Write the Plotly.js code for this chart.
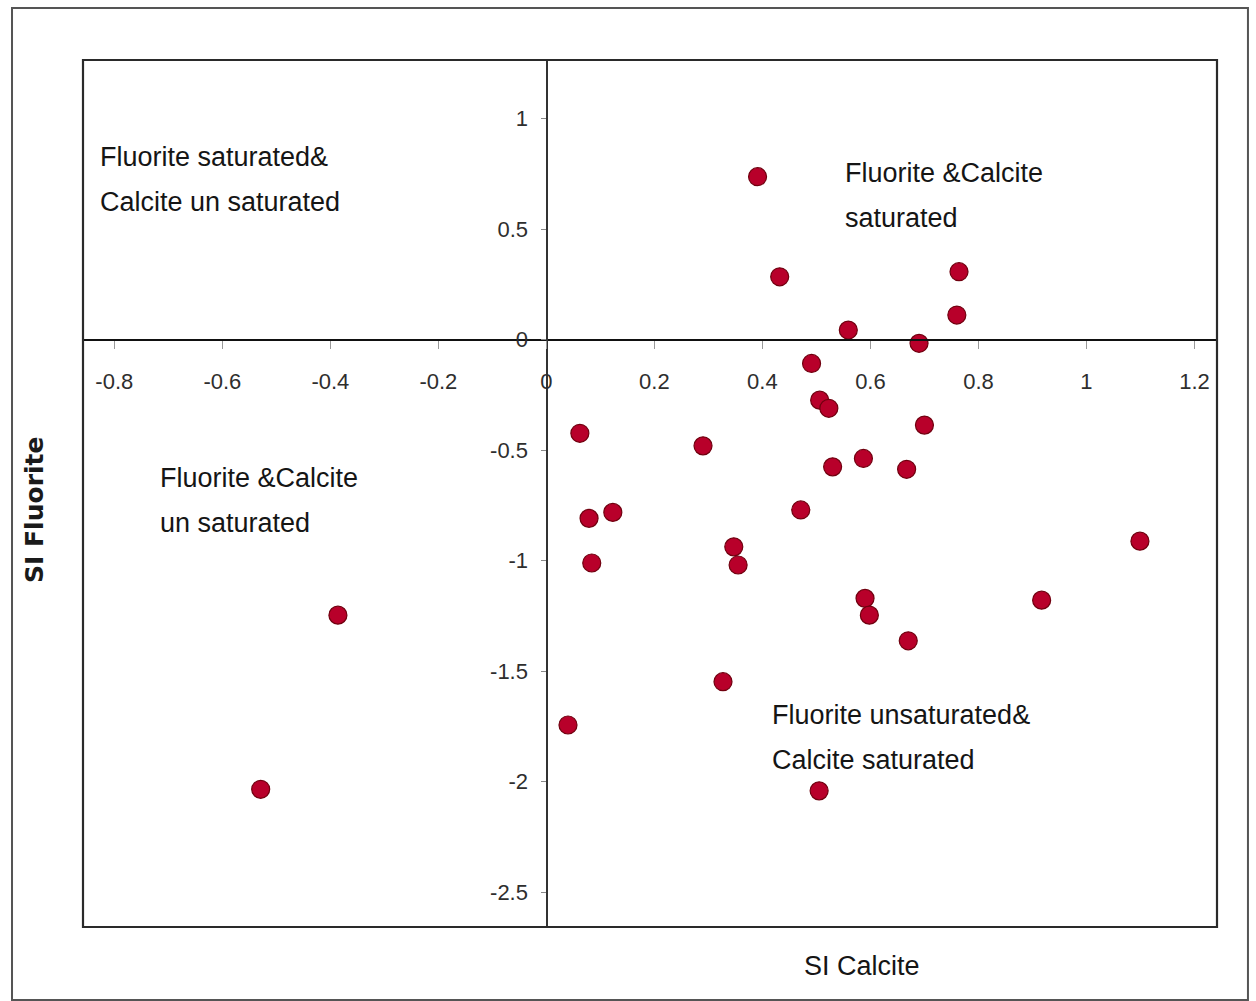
<!DOCTYPE html>
<html>
<head>
<meta charset="utf-8">
<script src="https://cdn.plot.ly/plotly-3.0.1.min.js"></script>
<style>
  html, body { margin: 0; padding: 0; background: #ffffff; }
  #chart { width: 1256px; height: 1001px; }
</style>
</head>
<body>
<div id="chart"></div>
<script>
// Saturation indices of the sampled waters
const siCalcite = [
  0.391, 0.432, 0.764, 0.760, 0.559, 0.690, 0.491, 0.506, 0.523, 0.700,
  0.062, 0.290, 0.587, 0.530, 0.667, 0.471, 0.079, 0.123, 0.347, 0.355,
  0.084, 1.099, -0.386, 0.590, 0.598, 0.917, 0.670, 0.327, 0.040, -0.529,
  0.505
];
const siFluorite = [
  0.737, 0.284, 0.307, 0.111, 0.043, -0.017, -0.108, -0.274, -0.311, -0.387,
  -0.424, -0.481, -0.538, -0.576, -0.587, -0.771, -0.809, -0.782, -0.938, -1.020,
  -1.011, -0.912, -1.247, -1.171, -1.247, -1.179, -1.363, -1.548, -1.744, -2.035,
  -2.042
];

// Axis ticks
const xTickVals = [-0.8, -0.6, -0.4, -0.2, 0, 0.2, 0.4, 0.6, 0.8, 1, 1.2];
const xTickText = ['-0.8', '-0.6', '-0.4', '-0.2', '0', '0.2', '0.4', '0.6', '0.8', '1', '1.2'];
const yTickVals = [-2.5, -2, -1.5, -1, -0.5, 0, 0.5, 1];
const yTickText = ['-2.5', '-2', '-1.5', '-1', '-0.5', '0', '0.5', '1'];

// Quadrant captions
const quadrantLines = [
  ['Fluorite saturated&', 'Calcite un saturated'],
  ['Fluorite &Calcite', 'saturated'],
  ['Fluorite &Calcite', 'un saturated'],
  ['Fluorite unsaturated&', 'Calcite saturated']
];
const xTitle = 'SI Calcite';
const yTitle = 'SI Fluorite';

const xRange = [-0.858, 1.2417];
const yRange = [-2.658, 1.265];

// Axes cross at the origin
const xAxisPos = (0 - yRange[0]) / (yRange[1] - yRange[0]);
const yAxisPos = (0 - xRange[0]) / (xRange[1] - xRange[0]);

const tickFont = { family: 'Liberation Sans, Arial, sans-serif', size: 22, color: '#2e2e2e' };
const labelFont = { family: 'Liberation Sans, Arial, sans-serif', size: 27, color: '#151515' };

// caption anchor (left edge, first line) in data units; second line sits 45px lower
const captionAnchors = [
  { x: -0.830, y: 0.827 },
  { x: 0.550, y: 0.753 },
  { x: -0.719, y: -0.627 },
  { x: 0.4146, y: -1.700 }
];
const lineStep = 45 / 221;

const annotations = [];
quadrantLines.forEach((lines, i) => {
  lines.forEach((txt, j) => {
    annotations.push({
      x: captionAnchors[i].x, y: captionAnchors[i].y - j * lineStep,
      xref: 'x', yref: 'y', xanchor: 'left', yanchor: 'middle',
      text: txt, showarrow: false, font: labelFont
    });
  });
});
annotations.push({
  x: 0.687, y: -0.045, xref: 'paper', yref: 'paper',
  xanchor: 'center', yanchor: 'middle', text: xTitle, showarrow: false,
  font: { family: 'Liberation Sans, Arial, sans-serif', size: 27, color: '#151515' }
});
annotations.push({
  x: -0.0423, y: 0.481, xref: 'paper', yref: 'paper',
  xanchor: 'center', yanchor: 'middle', text: yTitle, showarrow: false, textangle: -90,
  font: { family: 'DejaVu Sans, Verdana, sans-serif', size: 25, color: '#1a1a1a', weight: 'bold' }
});

const trace = {
  x: siCalcite, y: siFluorite, type: 'scatter', mode: 'markers',
  marker: { size: 18, color: '#b8002a', line: { color: '#70000f', width: 1.2 } },
  hoverinfo: 'x+y', showlegend: false
};

const layout = {
  width: 1256, height: 1001,
  margin: { l: 83, r: 39, t: 60, b: 74, pad: 0 },
  paper_bgcolor: '#ffffff', plot_bgcolor: '#ffffff',
  showlegend: false,
  xaxis: {
    range: xRange, anchor: 'free', position: xAxisPos,
    tickvals: xTickVals, ticktext: xTickText,
    showgrid: false, zeroline: false,
    showline: true, linecolor: '#111111', linewidth: 2.5,
    ticks: 'outside', ticklen: 8, tickcolor: '#999999', tickwidth: 1,
    tickfont: tickFont, ticklabelstandoff: 14
  },
  yaxis: {
    range: yRange, anchor: 'free', position: yAxisPos,
    tickvals: yTickVals, ticktext: yTickText,
    showgrid: false, zeroline: false,
    showline: true, linecolor: '#333333', linewidth: 1.5,
    ticks: 'outside', ticklen: 5, tickcolor: '#888888', tickwidth: 1,
    tickfont: tickFont, ticklabelstandoff: 9
  },
  shapes: [
    // plot frame
    { type: 'rect', xref: 'paper', yref: 'paper', x0: 0, x1: 1, y0: 0, y1: 1,
      line: { color: '#2a2a2a', width: 2.2 }, layer: 'above' },
    // outer frame
    { type: 'rect', xref: 'paper', yref: 'paper', x0: -0.0626, x1: 1.0273, y0: -0.0842, y1: 1.060,
      line: { color: '#555555', width: 2 }, layer: 'below' }
  ],
  annotations: annotations
};

Plotly.newPlot('chart', [trace], layout, { displayModeBar: false, staticPlot: true });
</script>
</body>
</html>
